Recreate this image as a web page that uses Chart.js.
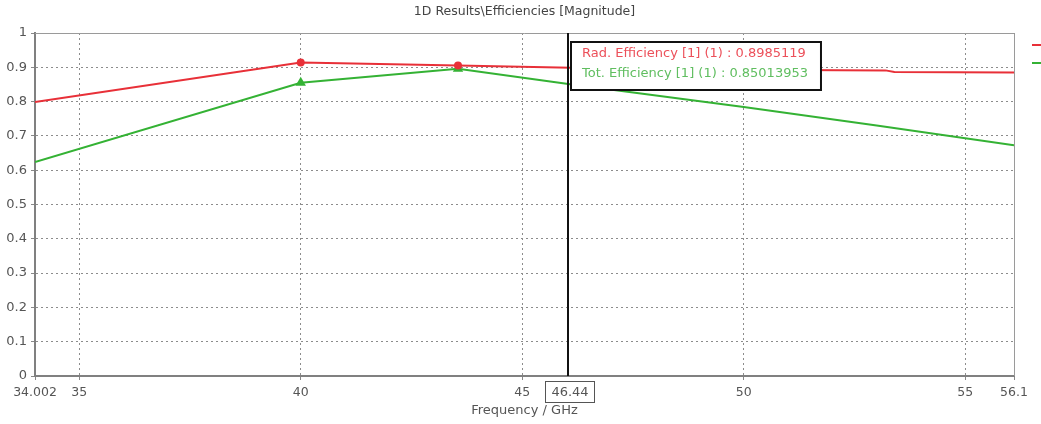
<!DOCTYPE html>
<html>
<head>
<meta charset="utf-8">
<title>1D Results\Efficiencies [Magnitude]</title>
<script src="https://cdn.jsdelivr.net/npm/chart.js@4.4.1/dist/chart.umd.min.js"></script>
<style>
  html, body { margin: 0; padding: 0; background: #fff; }
  canvas { display: block; }
</style>
</head>
<body>
<canvas id="eff-chart" width="1041" height="424"></canvas>
<script>
// values
const chartTitle = "1D Results\\Efficiencies [Magnitude]";
const xTickVals = [34.002, 35, 40, 45, 50, 55, 56.1];
const yTickStep = 0.1;

const radFreq = [34.002, 40, 43.55, 46.1, 50, 53.2, 53.4, 56.1];
const radEff = [0.799, 0.914, 0.905, 0.899, 0.893, 0.891, 0.886, 0.885];
const radMarkers = [0, 1, 1, 0, 0, 0, 0, 0];

const totFreq = [34.002, 40, 43.55, 46.04, 50, 53, 56.1];
const totEff = [0.624, 0.855, 0.896, 0.851, 0.784, 0.73, 0.673];
const totMarkers = [0, 1, 1, 0, 0, 0, 0];

const cursorFreq = 46.04;
const cursorLabel = "46.44";
const cursorLines = [
    "Rad. Efficiency [1] (1) : 0.8985119",
    "Tot. Efficiency [1] (1) : 0.85013953"
];

const redCol = 'rgb(232, 48, 56)';
const greenCol = 'rgb(52, 178, 52)';
const redText = 'rgb(236, 80, 90)';
const greenText = 'rgb(96, 190, 96)';
const fontFam = "'DejaVu Sans', Verdana, sans-serif";

function toPoints(xs, ys) {
    return xs.map((x, i) => ({ x: x, y: ys[i] }));
}

// frame, cursor, readout box, title and the clipped legend stubs
const decorPlugin = {
    id: 'decor',
    beforeDatasetsDraw(chart) {
        const ctx = chart.ctx;
        const a = chart.chartArea;
        ctx.save();
        ctx.strokeStyle = '#9a9a9a';
        ctx.lineWidth = 1;
        ctx.beginPath();
        ctx.moveTo(a.left, a.top + 0.5);
        ctx.lineTo(a.right + 0.5, a.top + 0.5);
        ctx.lineTo(a.right + 0.5, a.bottom);
        ctx.stroke();
        ctx.restore();
    },
    afterDraw(chart) {
        const ctx = chart.ctx;
        const a = chart.chartArea;
        const xs = chart.scales.x;
        const cx = Math.round(xs.getPixelForValue(cursorFreq));
        ctx.save();

        // title
        ctx.font = "12.5px " + fontFam;
        ctx.fillStyle = '#444';
        ctx.textAlign = 'center';
        ctx.textBaseline = 'middle';
        ctx.fillText(chartTitle, (a.left + a.right) / 2, 12);

        // cursor line
        ctx.strokeStyle = '#111';
        ctx.lineWidth = 2;
        ctx.beginPath();
        ctx.moveTo(cx, a.top);
        ctx.lineTo(cx, a.bottom);
        ctx.stroke();

        // cursor value box on the axis
        ctx.font = "13px " + fontFam;
        const lw = ctx.measureText(cursorLabel).width;
        const bw = lw + 12, bh = 21;
        const bx = cx + 2 - bw / 2, by = a.bottom + 5;
        ctx.fillStyle = '#fff';
        ctx.fillRect(bx, by, bw, bh);
        ctx.strokeStyle = '#555';
        ctx.lineWidth = 1;
        ctx.strokeRect(Math.round(bx) + 0.5, Math.round(by) + 0.5, Math.round(bw), bh);
        ctx.fillStyle = '#555';
        ctx.fillText(cursorLabel, cx + 2, by + bh / 2 + 1);

        // readout box
        ctx.font = "13px " + fontFam;
        const tw = Math.max(...cursorLines.map(t => ctx.measureText(t).width));
        const rx = cx + 3, ry = a.top + 9, rw = tw + 24, rh = 48;
        ctx.fillStyle = '#fff';
        ctx.fillRect(rx, ry, rw, rh);
        ctx.strokeStyle = '#111';
        ctx.lineWidth = 2;
        ctx.strokeRect(rx, ry, rw, rh);
        ctx.textAlign = 'left';
        ctx.fillStyle = redText;
        ctx.fillText(cursorLines[0], rx + 11, ry + 12);
        ctx.fillStyle = greenText;
        ctx.fillText(cursorLines[1], rx + 11, ry + 32);

        // legend stubs cut off at the right edge
        const lx = a.right + 18;
        ctx.lineWidth = 2;
        ctx.strokeStyle = redCol;
        ctx.beginPath();
        ctx.moveTo(lx, a.top + 12);
        ctx.lineTo(chart.width, a.top + 12);
        ctx.stroke();
        ctx.strokeStyle = greenCol;
        ctx.beginPath();
        ctx.moveTo(lx, a.top + 30);
        ctx.lineTo(chart.width, a.top + 30);
        ctx.stroke();
        ctx.restore();
    }
};

const ctx = document.getElementById('eff-chart').getContext('2d');

const effChart = new Chart(ctx, {
    type: 'scatter',
    data: {
        datasets: [{
            label: 'Rad. Efficiency [1] (1)',
            data: toPoints(radFreq, radEff),
            borderColor: redCol,
            backgroundColor: redCol,
            borderWidth: 2,
            showLine: true,
            pointStyle: 'circle',
            pointRadius: radMarkers.map(m => m ? 4 : 0),
            pointBorderWidth: 0
        },
        {
            label: 'Tot. Efficiency [1] (1)',
            data: toPoints(totFreq, totEff),
            borderColor: greenCol,
            backgroundColor: greenCol,
            borderWidth: 2,
            showLine: true,
            pointStyle: 'triangle',
            pointRadius: totMarkers.map(m => m ? 6 : 0),
            pointBorderWidth: 0
        }]
    },
    options: {
        responsive: false,
        animation: false,
        layout: { padding: { top: 33, right: 27, bottom: 0, left: 0 } },
        plugins: {
            legend: { display: false },
            tooltip: { enabled: false },
            title: { display: false }
        },
        scales: {
            x: {
                type: 'linear',
                position: 'bottom',
                min: xTickVals[0],
                max: xTickVals[xTickVals.length - 1],
                afterBuildTicks: (scale) => {
                    scale.ticks = xTickVals.map(v => ({ value: v }));
                },
                afterFit: (scale) => { scale.height = 48; },
                ticks: {
                    autoSkip: false,
                    maxRotation: 0,
                    padding: 5,
                    color: '#555',
                    font: { family: fontFam, size: 12.5 },
                    callback: (v) => String(v)
                },
                grid: {
                    color: '#8c8c8c',
                    tickBorderDash: [],
                    tickColor: '#888',
                    tickLength: 4
                },
                border: { color: '#808080', width: 2, dash: [2, 3] },
                title: {
                    display: true,
                    text: 'Frequency / GHz',
                    color: '#555',
                    font: { family: fontFam, size: 13 },
                    padding: { top: 0, bottom: 6 }
                }
            },
            y: {
                min: 0,
                max: 1,
                afterFit: (scale) => { scale.width = 35; },
                ticks: {
                    stepSize: yTickStep,
                    padding: 4,
                    color: '#555',
                    font: { family: fontFam, size: 13 },
                    callback: (v) => String(Math.round(v * 10) / 10)
                },
                grid: {
                    color: '#8c8c8c',
                    tickBorderDash: [],
                    tickColor: '#888',
                    tickLength: 4
                },
                border: { color: '#808080', width: 2, dash: [2, 3] }
            }
        }
    },
    plugins: [decorPlugin]
});
</script>
</body>
</html>
